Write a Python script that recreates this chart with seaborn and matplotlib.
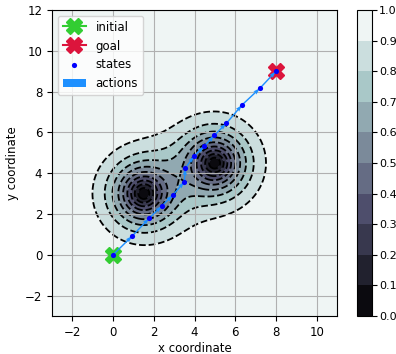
import numpy as np
import pandas as pd
import seaborn as sns
import matplotlib
matplotlib.use('Agg')
import matplotlib.pyplot as plt

# obstacle (cost bump) model
obstacle_x = [1.5, 5.0]
obstacle_y = [3.0, 4.5]
obstacle_scale = [1.32, 1.32]
obstacle_power = 1.3

# trajectory
state_x = [0.0, 0.95, 1.78, 2.40, 2.94, 3.50, 3.55, 3.99, 4.48, 4.98, 5.57, 6.34, 7.22, 8.0]
state_y = [0.0, 0.93, 1.80, 2.40, 2.93, 3.58, 4.25, 4.85, 5.33, 5.86, 6.45, 7.35, 8.17, 9.0]
initial = (0.0, 0.0)
goal = (8.0, 9.0)

levels = np.round(np.arange(0, 1.01, 0.1), 1)

states = pd.DataFrame({'x': state_x, 'y': state_y})

plt.rcParams['font.size'] = 8.5

#cost field on a grid
gx, gy = np.meshgrid(np.linspace(-3, 11, 300), np.linspace(-3, 12, 300))
bumps = np.zeros_like(gx)
for ox, oy, s in zip(obstacle_x, obstacle_y, obstacle_scale):
    d = np.sqrt((gx - ox) ** 2 + (gy - oy) ** 2)
    bumps += np.exp(-(d / s) ** obstacle_power)
cost = np.clip(1 - bumps, 0, 1)

fig = plt.figure(figsize=(3.96, 3.54), dpi=100)
ax = fig.add_axes([52 / 396, 38 / 354, 285 / 396, 306 / 354])
cax = fig.add_axes([357 / 396, 38 / 354, 15 / 396, 306 / 354])

cf = ax.contourf(gx, gy, cost, levels=levels, cmap='bone', zorder=0)
ax.contour(gx, gy, cost, levels=levels[1:-1], colors='k', linestyles='dashed', linewidths=1.3, zorder=0.5)

h_init, = ax.plot([initial[0]], [initial[1]], marker='X', color='limegreen', markersize=12, label='initial', zorder=2)
h_goal, = ax.plot([goal[0]], [goal[1]], marker='X', color='crimson', markersize=12, label='goal', zorder=2)

dx = np.diff(states.x)
dy = np.diff(states.y)
h_act = ax.quiver(states.x[:-1], states.y[:-1], dx, dy, angles='xy', scale_units='xy', scale=1,
                  color='dodgerblue', width=0.005, label='actions', zorder=3)
sns.scatterplot(data=states, x='x', y='y', color='blue', s=14, linewidth=0, label='states', zorder=4, ax=ax)
h_states = ax.collections[-1]

ax.set_xlim(-3, 11)
ax.set_ylim(-3, 12)
ax.set_xticks(np.arange(-2, 11, 2))
ax.set_yticks(np.arange(-2, 13, 2))
ax.grid(True)
ax.set_xlabel('x coordinate', labelpad=2)
ax.set_ylabel('y coordinate')

ax.legend([h_init, h_goal, h_states, h_act], ['initial', 'goal', 'states', 'actions'], loc='upper left')

cb = fig.colorbar(cf, cax=cax)
cb.set_ticks(levels)
cax.tick_params(pad=1.5, labelsize=8)

plt.savefig('out.png', dpi=100)
